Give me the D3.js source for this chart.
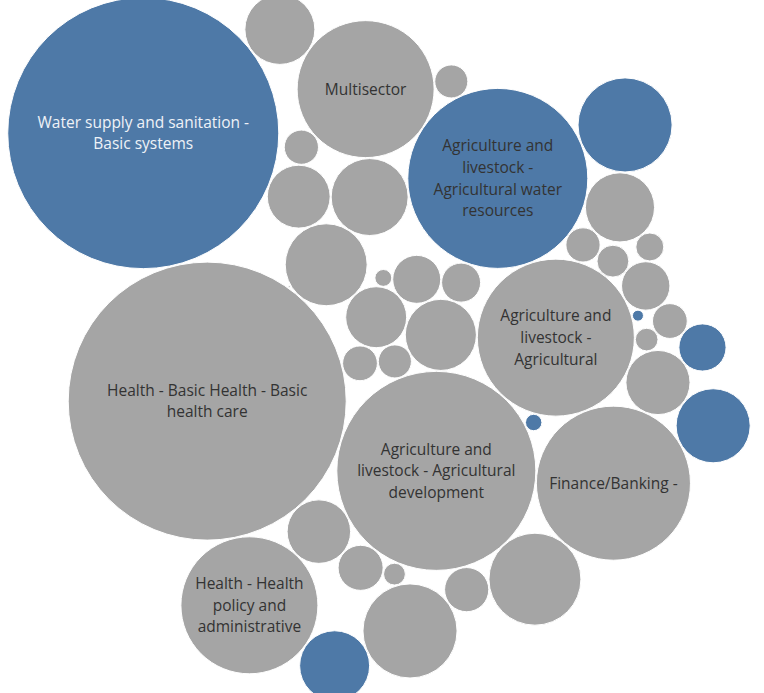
<!DOCTYPE html>
<html><head><meta charset="utf-8">
<script src="https://cdn.jsdelivr.net/npm/d3@7"></script>
<style>html,body{margin:0;padding:0;background:#fff;overflow:hidden}</style>
</head><body><svg id="chart" width="764" height="693"></svg>
<script>
// ---- DATA (in packing order) ----
const categories = [
  "Sector 01","Sector 02","Sector 03",
  "Agriculture and livestock - Agricultural development",
  "Sector 04",
  "Agriculture and livestock - Agricultural",
  "Sector 05","Sector 06",
  "Health - Basic Health - Basic health care",
  "Agriculture and livestock - Agricultural water resources",
  "Sector 07","Sector 08","Sector 09","Sector 10",
  "Finance/Banking -",
  "Sector 11","Sector 12","Sector 13","Sector 14",
  "Water supply and sanitation - Basic systems",
  "Multisector",
  "Sector 15","Sector 16","Sector 17","Sector 18","Sector 19","Sector 20","Sector 21",
  "Sector 22","Sector 23","Sector 24","Sector 25",
  "Health - Health policy and administrative",
  "Sector 26","Sector 27","Sector 28","Sector 29","Sector 30","Sector 31","Sector 32",
  "Sector 33","Sector 34"
];
const values = [
  2.9, 13.0, 9.6,
  100.0,
  6.0,
  62.4,
  3.2, 4.0,
  194.6,
  81.9,
  0.8, 17.2, 15.2, 0.76,
  60.1,
  3.1, 10.4, 0.02, 10.2,
  185.0,
  47.6,
  2.7, 10.6, 21.6, 3.1, 12.3, 6.1, 5.3,
  2.1, 0.36, 1.4, 3.2,
  47.6,
  1.3, 22.6, 2.9, 5.1, 12.6, 22.6, 5.8,
  12.6, 14.1
];
const groups = [
  "Other","Other","Other",
  "Other",
  "Other",
  "Other",
  "Other","Other",
  "Other",
  "Water",
  "Other","Other","Other","Water",
  "Other",
  "Other","Other","Other","Other",
  "Water",
  "Other",
  "Other","Other","Other","Other","Other","Other","Other",
  "Other","Water","Other","Other",
  "Other",
  "Other","Water","Other","Other","Other","Other","Water",
  "Water","Water"
];
const labelLines = {
  "Water supply and sanitation - Basic systems": ["Water supply and sanitation -", "Basic systems"],
  "Health - Basic Health - Basic health care": ["Health - Basic Health - Basic", "health care"],
  "Agriculture and livestock - Agricultural development": ["Agriculture and", "livestock - Agricultural", "development"],
  "Agriculture and livestock - Agricultural water resources": ["Agriculture and", "livestock -", "Agricultural water", "resources"],
  "Agriculture and livestock - Agricultural": ["Agriculture and", "livestock -", "Agricultural"],
  "Finance/Banking -": ["Finance/Banking -"],
  "Multisector": ["Multisector"],
  "Health - Health policy and administrative": ["Health - Health", "policy and", "administrative"]
};
const groupNames = ["Water", "Other"];
const lightLabels = ["Water supply and sanitation - Basic systems"];

// ---- LAYOUT ----
const rotationDeg = -30, mirror = true;
const color = d3.scaleOrdinal().domain(groupNames).range(["#4e79a7", "#a5a5a5"]);
const rScale = d3.scaleSqrt().domain([0, d3.max(values)]).range([0, 139.5]);

const nodes = categories.map((c, i) => ({ name: c, value: values[i], group: groups[i], r: rScale(values[i]) }));
d3.packSiblings(nodes);
const a = rotationDeg * Math.PI / 180, ca = Math.cos(a), sa = Math.sin(a);
nodes.forEach(n => { const x = n.x, y = mirror ? -n.y : n.y; n.x = x * ca - y * sa; n.y = x * sa + y * ca; });

// anchor the area-weighted centroid of the pack
const wsum = d3.sum(nodes, n => n.r * n.r);
const cx = d3.sum(nodes, n => n.r * n.r * n.x) / wsum;
const cy = d3.sum(nodes, n => n.r * n.r * n.y) / wsum;
const xScale = d3.scaleLinear().domain([cx - 1, cx + 1]).range([360, 362]);
const yScale = d3.scaleLinear().domain([cy - 1, cy + 1]).range([326, 328]);

const svg = d3.select("#chart");
const g = svg.selectAll("g.bubble").data(nodes).join("g").attr("class", "bubble")
  .attr("transform", d => `translate(${xScale(d.x)},${yScale(d.y)})`);
g.append("circle")
  .attr("r", d => Math.max(0, d.r - 0.5))
  .attr("fill", d => color(d.group))
  .attr("stroke", "#ffffff").attr("stroke-width", 1);
g.filter(d => labelLines[d.name]).each(function (d) {
  const lines = labelLines[d.name];
  const lh = 21.6;
  const t = d3.select(this).append("text")
    .attr("text-anchor", "middle")
    .attr("font-family", "'Open Sans', 'Noto Sans', sans-serif")
    .attr("font-size", 15.5)
    .attr("fill", lightLabels.includes(d.name) ? "#eef2f7" : "#333333");
  lines.forEach((l, i) => {
    t.append("tspan").attr("x", 0).attr("y", (i - (lines.length - 1) / 2) * lh).attr("dy", "0.35em").text(l);
  });
});
</script></body></html>
